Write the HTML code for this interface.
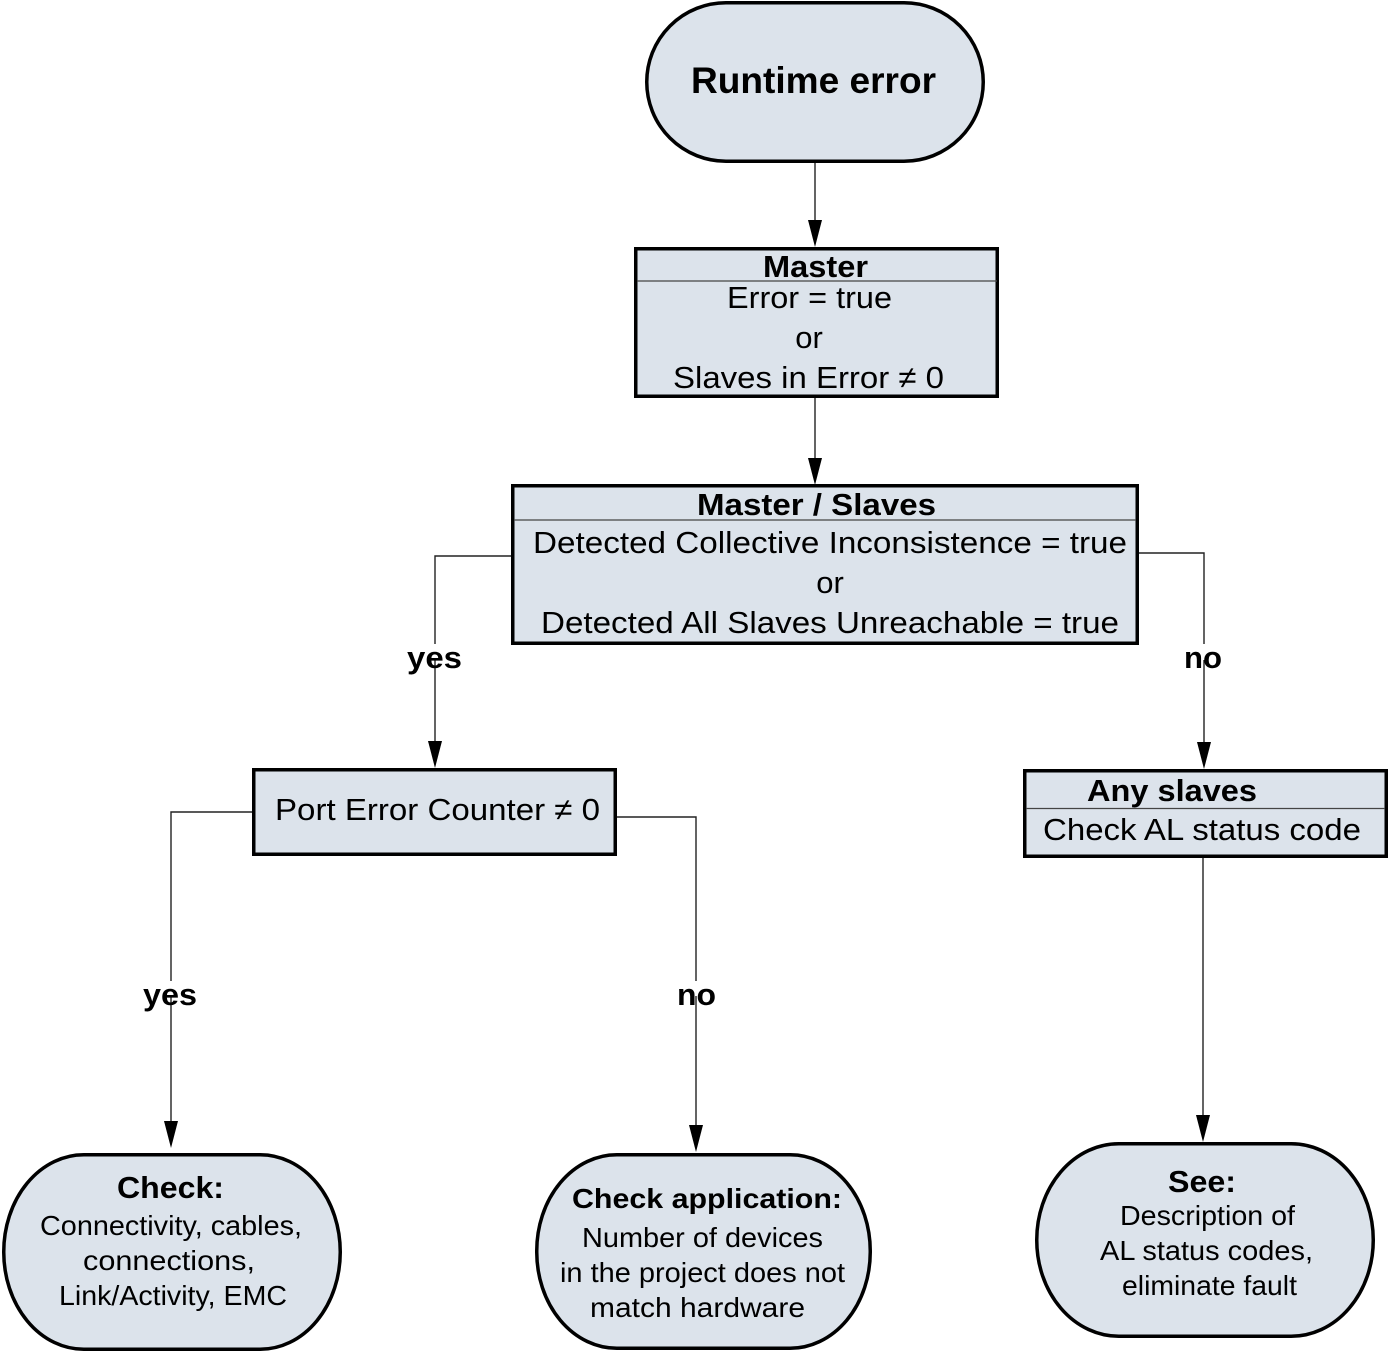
<!DOCTYPE html>
<html>
<head>
<meta charset="utf-8">
<style>
  html, body { margin: 0; padding: 0; background: #ffffff; }
  svg { display: block; }
  text { font-family: "Liberation Sans", Arial, sans-serif; fill: #000; }
  .b { font-weight: bold; }
</style>
</head>
<body>
<svg width="1389" height="1353" viewBox="0 0 1389 1353" xmlns="http://www.w3.org/2000/svg">
  <!-- connectors -->
  <g stroke="#222" stroke-width="1.4" fill="none">
    <line x1="815" y1="163" x2="815" y2="225"/>
    <line x1="815" y1="398" x2="815" y2="462"/>
    <!-- left from master/slaves -->
    <polyline points="511,556 435,556 435,644"/>
    <line x1="435" y1="660" x2="435" y2="745"/>
    <!-- right from master/slaves -->
    <polyline points="1139,553 1204,553 1204,644"/>
    <line x1="1204" y1="660" x2="1204" y2="746"/>
    <!-- port left -->
    <polyline points="252,812 171,812 171,981"/>
    <line x1="171" y1="996" x2="171" y2="1125"/>
    <!-- port right -->
    <polyline points="617,817 696,817 696,981"/>
    <line x1="696" y1="996" x2="696" y2="1128"/>
    <!-- any slaves down -->
    <line x1="1203" y1="858" x2="1203" y2="1118"/>
  </g>
  <!-- arrowheads -->
  <g fill="#000" stroke="none">
    <polygon points="808,220 822,220 815,247"/>
    <polygon points="808,458 822,458 815,485"/>
    <polygon points="428,741 442,741 435,768"/>
    <polygon points="1197,742 1211,742 1204,769"/>
    <polygon points="164,1121 178,1121 171,1148"/>
    <polygon points="689,1125 703,1125 696,1152"/>
    <polygon points="1196,1115 1210,1115 1203,1142"/>
  </g>

  <!-- shapes -->
  <g fill="#dce3eb" stroke="#000" stroke-width="3.5">
    <rect x="646.75" y="2.75" width="336.5" height="158.5" rx="79.25" ry="79.25"/>
    <rect x="635.75" y="248.75" width="361.5" height="147.5"/>
    <rect x="512.75" y="485.75" width="624.5" height="157.5"/>
    <rect x="253.75" y="769.75" width="361.5" height="84.5"/>
    <rect x="1024.75" y="770.75" width="361.5" height="85.5"/>
    <rect x="3.75" y="1154.75" width="336.5" height="194.5" rx="80" ry="97"/>
    <rect x="536.75" y="1154.75" width="333.5" height="193.5" rx="80" ry="96"/>
    <rect x="1036.75" y="1143.75" width="336.5" height="192.5" rx="82" ry="96"/>
  </g>
  <!-- dividers -->
  <g stroke="#444" stroke-width="1.2">
    <line x1="637" y1="281" x2="997" y2="281"/>
    <line x1="514" y1="520" x2="1136" y2="520"/>
    <line x1="1026" y1="808.5" x2="1385" y2="808.5"/>
  </g>

  <!-- texts -->
  <text class="b" x="691" y="93" font-size="37" textLength="245" lengthAdjust="spacingAndGlyphs">Runtime error</text>

  <text class="b" x="763" y="277" font-size="31" textLength="105" lengthAdjust="spacingAndGlyphs">Master</text>
  <text x="727" y="308" font-size="31" textLength="165" lengthAdjust="spacingAndGlyphs">Error = true</text>
  <text x="809" y="348" font-size="31" text-anchor="middle">or</text>
  <text x="673" y="388" font-size="31" textLength="271" lengthAdjust="spacingAndGlyphs">Slaves in Error ≠ 0</text>

  <text class="b" x="697" y="515" font-size="31" textLength="239" lengthAdjust="spacingAndGlyphs">Master / Slaves</text>
  <text x="533" y="553" font-size="31" textLength="594" lengthAdjust="spacingAndGlyphs">Detected Collective Inconsistence = true</text>
  <text x="830" y="593" font-size="31" text-anchor="middle">or</text>
  <text x="541" y="633" font-size="31" textLength="578" lengthAdjust="spacingAndGlyphs">Detected All Slaves Unreachable = true</text>

  <text class="b" x="407" y="668" font-size="31" textLength="55" lengthAdjust="spacingAndGlyphs">yes</text>
  <text class="b" x="1184" y="668" font-size="31" textLength="38" lengthAdjust="spacingAndGlyphs">no</text>

  <text x="275" y="820" font-size="31" textLength="325" lengthAdjust="spacingAndGlyphs">Port Error Counter ≠ 0</text>

  <text class="b" x="1087" y="801" font-size="31" textLength="170" lengthAdjust="spacingAndGlyphs">Any slaves</text>
  <text x="1043" y="840" font-size="31" textLength="318" lengthAdjust="spacingAndGlyphs">Check AL status code</text>

  <text class="b" x="143" y="1005" font-size="31" textLength="54" lengthAdjust="spacingAndGlyphs">yes</text>
  <text class="b" x="677" y="1005" font-size="31" textLength="39" lengthAdjust="spacingAndGlyphs">no</text>

  <text class="b" x="117" y="1198" font-size="31" textLength="107" lengthAdjust="spacingAndGlyphs">Check:</text>
  <text x="40" y="1235" font-size="28" textLength="262" lengthAdjust="spacingAndGlyphs">Connectivity, cables,</text>
  <text x="83" y="1270" font-size="28" textLength="172" lengthAdjust="spacingAndGlyphs">connections,</text>
  <text x="59" y="1305" font-size="28" textLength="228" lengthAdjust="spacingAndGlyphs">Link/Activity, EMC</text>

  <text class="b" x="572" y="1208" font-size="28" textLength="270" lengthAdjust="spacingAndGlyphs">Check application:</text>
  <text x="582" y="1247" font-size="28" textLength="241" lengthAdjust="spacingAndGlyphs">Number of devices</text>
  <text x="560" y="1282" font-size="28" textLength="285" lengthAdjust="spacingAndGlyphs">in the project does not</text>
  <text x="590" y="1317" font-size="28" textLength="215" lengthAdjust="spacingAndGlyphs">match hardware</text>

  <text class="b" x="1168" y="1192" font-size="31" textLength="68" lengthAdjust="spacingAndGlyphs">See:</text>
  <text x="1120" y="1225" font-size="28" textLength="175" lengthAdjust="spacingAndGlyphs">Description of</text>
  <text x="1100" y="1260" font-size="28" textLength="213" lengthAdjust="spacingAndGlyphs">AL status codes,</text>
  <text x="1122" y="1295" font-size="28" textLength="175" lengthAdjust="spacingAndGlyphs">eliminate fault</text>
</svg>
</body>
</html>
